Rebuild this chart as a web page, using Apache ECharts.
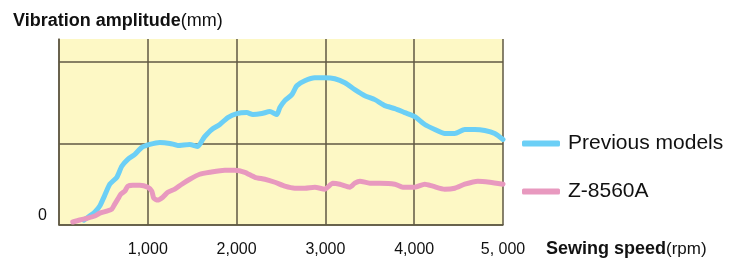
<!DOCTYPE html>
<html>
<head>
<meta charset="utf-8">
<script src="https://cdn.jsdelivr.net/npm/echarts@6/dist/echarts.min.js"></script>
<style>
  html, body { margin: 0; padding: 0; background: #fff; }
  #chart { width: 740px; height: 258px; }
</style>
</head>
<body>
<div id="chart"></div>
<script>
// sewing speed (rpm) vs vibration amplitude
const prevSpeed = [280, 313, 403, 459, 516, 572, 651, 707, 775, 854, 933, 1022, 1135, 1248, 1338, 1473, 1563, 1620, 1642, 1721, 1811, 1901, 2003, 2115, 2183, 2284, 2374, 2453, 2487, 2543, 2622, 2678, 2768, 2881, 2993, 3106, 3219, 3331, 3444, 3557, 3669, 3782, 3894, 4007, 4119, 4232, 4344, 4457, 4569, 4682, 4795, 4907, 5000]
const prevAmp = [0.06, 0.085, 0.159, 0.232, 0.366, 0.5, 0.585, 0.72, 0.805, 0.866, 0.951, 0.988, 1.012, 1.0, 0.976, 0.988, 0.963, 1.049, 1.085, 1.171, 1.232, 1.317, 1.366, 1.378, 1.354, 1.366, 1.39, 1.354, 1.439, 1.524, 1.598, 1.707, 1.768, 1.805, 1.805, 1.793, 1.744, 1.659, 1.585, 1.537, 1.463, 1.427, 1.378, 1.329, 1.232, 1.171, 1.122, 1.122, 1.171, 1.171, 1.159, 1.122, 1.049]

const newSpeed = [155, 234, 324, 403, 459, 538, 595, 628, 662, 696, 741, 775, 831, 910, 1000, 1045, 1067, 1112, 1169, 1225, 1304, 1383, 1473, 1585, 1698, 1867, 1980, 2093, 2206, 2318, 2431, 2543, 2656, 2768, 2881, 2993, 3083, 3162, 3275, 3331, 3388, 3500, 3613, 3782, 3872, 4007, 4119, 4209, 4344, 4457, 4569, 4716, 4851, 5000]
const newAmp = [0.037, 0.061, 0.085, 0.11, 0.146, 0.171, 0.195, 0.256, 0.317, 0.378, 0.415, 0.476, 0.488, 0.488, 0.463, 0.415, 0.329, 0.305, 0.341, 0.402, 0.439, 0.5, 0.561, 0.622, 0.646, 0.671, 0.671, 0.646, 0.585, 0.561, 0.524, 0.476, 0.451, 0.451, 0.463, 0.439, 0.512, 0.5, 0.463, 0.512, 0.537, 0.512, 0.512, 0.5, 0.463, 0.463, 0.5, 0.476, 0.439, 0.451, 0.5, 0.537, 0.524, 0.5]

const seriesNames = ['Previous models', 'Z-8560A']
const xTickLabels = ['', '1,000', '2,000', '3,000', '4,000', '5, 000']

const FONT = '"Liberation Sans", Arial, Helvetica, sans-serif'
const gridColor = '#5f5943'

const chart = echarts.init(document.getElementById('chart'))

const zip = (xs, ys) => xs.map((x, i) => [x, ys[i]])

chart.setOption({
  animation: false,
  textStyle: { fontFamily: FONT },
  title: [
    {
      text: '{b|Vibration amplitude}{n|(mm)}',
      left: 8,
      top: 7,
      textStyle: {
        rich: {
          b: { fontFamily: FONT, fontWeight: 'bold', fontSize: 18, color: '#111' },
          n: { fontFamily: FONT, fontWeight: 'normal', fontSize: 18, color: '#111' }
        }
      }
    },
    {
      text: '{b|Sewing speed}{n|(rpm)}',
      left: 541,
      top: 235,
      textStyle: {
        rich: {
          b: { fontFamily: FONT, fontWeight: 'bold', fontSize: 18, color: '#111' },
          n: { fontFamily: FONT, fontWeight: 'normal', fontSize: 17, color: '#111' }
        }
      }
    }
  ],
  legend: {
    orient: 'vertical',
    left: 517,
    top: 128,
    icon: 'roundRect',
    itemWidth: 38,
    itemHeight: 6,
    itemGap: 27,
    data: seriesNames,
    textStyle: {
      fontFamily: FONT,
      fontSize: 21,
      color: '#111',
      padding: [0, 0, 0, 3]
    }
  },
  grid: {
    left: 59,
    right: 237,
    top: 39,
    bottom: 32,
    show: true,
    backgroundColor: '#fdf8c5',
    borderWidth: 0
  },
  xAxis: {
    type: 'value',
    min: 0,
    max: 5000,
    interval: 1000,
    axisLine: { show: true, lineStyle: { color: gridColor, width: 1.5 } },
    axisTick: { show: false },
    splitLine: { show: true, lineStyle: { color: gridColor, width: 1.5 } },
    axisLabel: {
      margin: 17,
      fontFamily: FONT,
      fontSize: 16,
      color: '#111',
      formatter: v => xTickLabels[Math.round(v / 1000)]
    }
  },
  yAxis: {
    type: 'value',
    min: 0,
    max: 2.28,
    interval: 1,
    axisLine: { show: true, lineStyle: { color: gridColor, width: 1.5 } },
    axisTick: { show: false },
    splitLine: { show: true, showMaxLine: false, lineStyle: { color: gridColor, width: 1.5 } },
    axisLabel: {
      margin: 12,
      fontFamily: FONT,
      fontSize: 16,
      color: '#111',
      verticalAlign: 'bottom',
      lineHeight: 18,
      formatter: v => (v === 0 ? '0' : '')
    }
  },
  series: [
    {
      name: seriesNames[0],
      type: 'line',
      data: zip(prevSpeed, prevAmp),
      showSymbol: false,
      symbol: 'none',
      smooth: 0.2,
      color: '#6bcff6',
      lineStyle: { width: 5, color: '#6bcff6', cap: 'round', join: 'round' }
    },
    {
      name: seriesNames[1],
      type: 'line',
      data: zip(newSpeed, newAmp),
      showSymbol: false,
      symbol: 'none',
      smooth: 0.2,
      color: '#e899bf',
      lineStyle: { width: 5, color: '#e899bf', cap: 'round', join: 'round' }
    }
  ]
})
</script>
</body>
</html>
